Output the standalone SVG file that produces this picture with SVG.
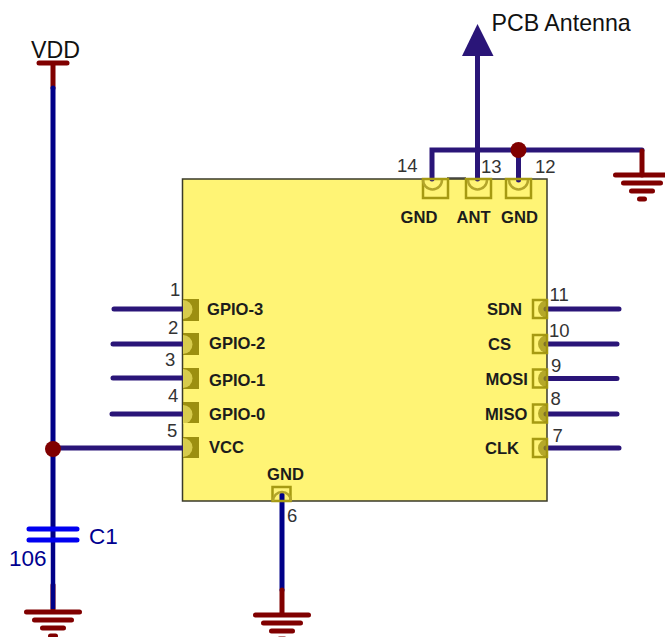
<svg xmlns="http://www.w3.org/2000/svg" width="665" height="637" viewBox="0 0 665 637">
<style>
text{font-family:"Liberation Sans",Arial,sans-serif}
.b{font-weight:bold;font-size:16.6px;fill:#1c1c1c}
.n{font-size:18.5px;fill:#333}
.t{font-size:23.2px;fill:#111}
.c{font-size:22.500px;fill:#000090}
.w,.v,.r,.p,.g{fill:none;stroke-linecap:round}
.w{stroke:#2a1578;stroke-width:5}
.v{stroke:#000088;stroke-width:5}
.r,.g{stroke:#800000;stroke-width:5}
.p{stroke:#0000f0;stroke-width:5}
.pad{fill:none;stroke:#a69a12;stroke-width:2.500}
.fpad{fill:#9c8f10}
.arc{fill:none;stroke:#b3a52a;stroke-width:2.500}
.e{fill:#fff475;opacity:.6}
.s{fill:#9c8f10;opacity:.75}
</style>
<defs>
<g id="gnd">
<path class="g" d="M2.500 0H55.500M10.500 8H47.500M18.500 16H39.500M26.500 24H31.500"/>
</g>
</defs>
<g id="U1">
<path d="M447 178H466" fill="none" stroke="#444" stroke-width="1.5"/>
<rect x="182.500" y="179" width="364.500" height="322" fill="#fff475" stroke="#3a3a2a" stroke-width="1.500"/>
</g>
<g id="connectors">
<path class="w" d="M477.500 179V50"/>
<path class="w" d="M432 179V150H642"/>
<path class="w" d="M518.500 180V150"/>
<path class="w" d="M114 309H186M113 344H186M113 378H186M112 414H186M53 448H186"/>
<path class="w" d="M546 309H619M546 344H617M546 378.500H617M546 414H617M546 448H619"/>
<path class="v" d="M282 495V590"/>
<path class="r" stroke-linecap="butt" d="M282 590V614"/>
<path class="r" d="M53 64V88"/>
<path class="v" d="M53 88V540"/>
<path class="r" d="M53 585V611"/>
<path d="M53 540V609" fill="none" stroke="#000088" stroke-width="4.500"/>
<path class="r" d="M642 151V175"/>
</g>
<g id="pin14"><rect class="pad" x="423" y="179" width="25" height="19"/><path class="arc" d="M423 180A9.500 9.500 0 0 0 442 180"/><text class="n" x="397" y="172">14</text><text class="b" x="400.500" y="223">GND</text></g>
<g id="pin13"><rect class="pad" x="466" y="179" width="25" height="19"/><path class="arc" d="M468 180A9.500 9.500 0 0 0 487 180"/><text class="n" x="481" y="173">13</text><text class="b" x="456.500" y="223">ANT</text></g>
<g id="pin12"><rect class="pad" x="506" y="179" width="25" height="19"/><path class="arc" d="M509 180A9.500 9.500 0 0 0 528 180"/><text class="n" x="535" y="173">12</text><text class="b" x="501" y="223">GND</text></g>
<g id="pin1"><rect class="fpad" x="183" y="299" width="16" height="22"/><path class="e" d="M183 300A9.500 9.500 0 0 1 183 319Z"/><text class="n" x="170" y="296">1</text><text class="b" x="207" y="315">GPIO-3</text></g>
<g id="pin2"><rect class="fpad" x="183" y="333" width="16" height="22"/><path class="e" d="M183 335A9.500 9.500 0 0 1 183 354Z"/><text class="n" x="168" y="334">2</text><text class="b" x="209" y="349">GPIO-2</text></g>
<g id="pin3"><rect class="fpad" x="183" y="368" width="16" height="21"/><path class="e" d="M183 369A9.500 9.500 0 0 1 183 388Z"/><text class="n" x="165" y="366">3</text><text class="b" x="209" y="386">GPIO-1</text></g>
<g id="pin4"><rect class="fpad" x="183" y="402" width="16" height="21"/><path class="e" d="M183 405A9.500 9.500 0 0 1 183 424Z"/><text class="n" x="168" y="401.500">4</text><text class="b" x="209" y="420">GPIO-0</text></g>
<g id="pin5"><rect class="fpad" x="183" y="437" width="16" height="21"/><path class="e" d="M183 438A9.500 9.500 0 0 1 183 457Z"/><text class="n" x="167" y="437">5</text><text class="b" x="209" y="453">VCC</text></g>
<g id="pin11"><rect class="pad" x="533" y="300" width="14" height="18"/><path class="s" d="M547 300A9 9 0 0 0 547 318Z"/><text class="n" x="549.500" y="301">11</text><text class="b" x="487" y="315">SDN</text></g>
<g id="pin10"><rect class="pad" x="533" y="335" width="14" height="18"/><path class="s" d="M547 335A9 9 0 0 0 547 353Z"/><text class="n" x="549" y="337">10</text><text class="b" x="488" y="350">CS</text></g>
<g id="pin9"><rect class="pad" x="533" y="369.500" width="14" height="18"/><path class="s" d="M547 369.500A9 9 0 0 0 547 387.500Z"/><text class="n" x="551" y="372">9</text><text class="b" x="485.500" y="385">MOSI</text></g>
<g id="pin8"><rect class="pad" x="533" y="404.500" width="14" height="18"/><path class="s" d="M547 404.500A9 9 0 0 0 547 422.500Z"/><text class="n" x="550.500" y="405">8</text><text class="b" x="485" y="420">MISO</text></g>
<g id="pin7"><rect class="pad" x="533" y="439" width="14" height="18"/><path class="s" d="M547 439A9 9 0 0 0 547 457Z"/><text class="n" x="552.500" y="442">7</text><text class="b" x="485" y="454">CLK</text></g>
<g id="pin6"><rect class="pad" x="272.500" y="487" width="18" height="14"/><path class="arc" d="M273 501A9 9 0 0 1 291 501"/><text class="n" x="287" y="522">6</text><text class="b" x="267" y="480">GND</text></g>
<g id="antenna"><polygon points="477.500,24 462,56 493.500,56" fill="#2a1578"/><text class="t" x="491.500" y="31">PCB Antenna</text></g>
<g id="j1"><circle cx="518.500" cy="150" r="8" fill="#800000"/></g>
<g id="j2"><circle cx="53" cy="449" r="8" fill="#800000"/></g>
<g id="vdd"><path class="r" d="M39 63H67"/><text class="t" x="31" y="58">VDD</text></g>
<g id="C1"><path class="p" d="M29 529H77M29 540H77"/><text class="c" x="89" y="544">C1</text><text class="c" x="9" y="566">106</text></g>
<use id="gnd1" href="#gnd" transform="translate(613 175)"/>
<use id="gnd2" href="#gnd" transform="translate(24 612)"/>
<use id="gnd3" href="#gnd" transform="translate(253 615)"/>
</svg>
